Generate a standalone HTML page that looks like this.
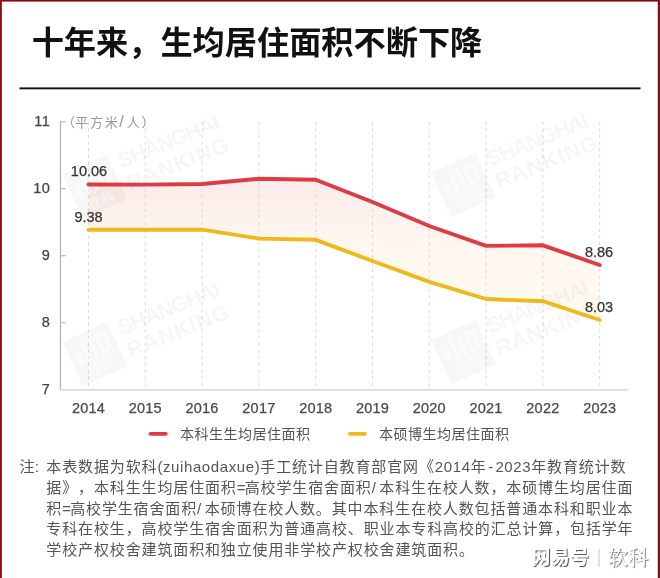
<!DOCTYPE html>
<html lang="zh-CN">
<head>
<meta charset="utf-8">
<title>十年来，生均居住面积不断下降</title>
<style>
  html, body { margin: 0; padding: 0; }
  body {
    width: 660px; height: 578px; overflow: hidden; background: #ffffff;
    font-family: "Liberation Sans", "Noto Sans CJK SC", sans-serif;
    position: relative; color: #333;
  }
  .abs { position: absolute; white-space: nowrap; }
  .title { left: 31.7px; top: 20.3px; font-size: 32.2px; line-height: 46px; font-weight: 700; color: #111; letter-spacing: 0; }
  svg { position: absolute; left: 0; top: 0; }
  .ylab { font-size: 14.5px; fill: #444; stroke: #444; stroke-width: 0.25px; text-anchor: end; letter-spacing: 0.5px; }
  .xlab { font-size: 14.5px; fill: #4a4a4a; stroke: #4a4a4a; stroke-width: 0.25px; text-anchor: middle; letter-spacing: 0.2px; }
  .vlab { font-size: 14.5px; fill: #333; stroke: #333; stroke-width: 0.25px; text-anchor: middle; }
  .unit { font-size: 13px; fill: #999; }
  .leg { font-size: 14px; color: #555; line-height: 20px; letter-spacing: 0.5px; }
  .note { left: 46.3px; font-size: 15px; line-height: 21px; color: #555; white-space: nowrap;
    text-spacing-trim: space-all; letter-spacing: 0.87px; }
  .nw { line-height: 24px; color: #fff; text-shadow: 0.8px 0.9px 0.9px rgba(40,40,40,0.75); }
  .lt { letter-spacing: 0.6px; }
  .hy { letter-spacing: 0; padding: 0 2.2px 0 1.7px; }
  .eq { letter-spacing: -0.8px; }
  .sl { letter-spacing: 3.5px; }
  .wm { fill: #000; fill-opacity: 0.036; font-weight: 700; font-size: 22px; }
</style>
</head>
<body>

<div class="abs title">十年来，生均居住面积不断下降</div>

<svg width="660" height="578" viewBox="0 0 660 578">
  <defs>
    <linearGradient id="areaFill" x1="0" y1="178" x2="0" y2="322" gradientUnits="userSpaceOnUse">
      <stop offset="0" stop-color="#fceaea"/>
      <stop offset="0.2" stop-color="#fdf0ed"/>
      <stop offset="0.4" stop-color="#fef5ef"/>
      <stop offset="0.6" stop-color="#fef8ef"/>
      <stop offset="1" stop-color="#fffbf1"/>
    </linearGradient>
    <g id="wmark">
      <g transform="rotate(-22)" >
        <g transform="rotate(-2.5)">
        <rect x="-24.5" y="-24.5" width="49" height="49" fill="#000" fill-opacity="0.03"/>
        <rect x="-17" y="-10" width="4.5" height="14" fill="#fff" fill-opacity="0.45"/>
        <rect x="-9.5" y="-18" width="4.5" height="22" fill="#fff" fill-opacity="0.45"/>
        <rect x="-1" y="-18" width="4.5" height="22" fill="#fff" fill-opacity="0.45"/>
        <path d="M6.5 -18h6a6 6 0 0 1 6 6v10a6 6 0 0 1 -6 6h-6z M10.5 -13.5v13h2.5a2 2 0 0 0 2 -2v-9a2 2 0 0 0 -2 -2z" fill="#fff" fill-opacity="0.45" fill-rule="evenodd"/>
        <text x="0.5" y="19.5" font-size="13.5" font-weight="700" fill="#fff" fill-opacity="0.45" text-anchor="middle" letter-spacing="1">软科</text>
        </g>
        <text class="wm" x="31.5" y="-7" textLength="108" lengthAdjust="spacing">SHANGHAI</text>
        <text class="wm" x="31.5" y="17" textLength="108" lengthAdjust="spacing">RANKING</text>
      </g>
    </g>
  </defs>

  <!-- area between lines -->
  <path fill="url(#areaFill)" d="M88.5 184.5L145.3 184.6L202.1 184L258.9 178.8L315.7 179.7L372.5 202L429.3 226L486.1 245.9L542.9 245.3L599.7 265L599.7 320L542.9 301.2L486.1 299L429.3 281.8L372.5 261L315.7 239.8L258.9 238.6L202.1 229.6L145.3 229.7L88.5 229.7Z"/>

  <!-- vertical dashed grid -->
  <g stroke="#dadada" stroke-width="1" stroke-dasharray="3.3 3.4" fill="none">
    <path d="M88.5 121.5V390M145.3 121.5V390M202.1 121.5V390M258.9 121.5V390M315.7 121.5V390M372.5 121.5V390M429.3 121.5V390M486.1 121.5V390M542.9 121.5V390M599.7 121.5V390"/>
  </g>

  <!-- watermarks -->
  <use href="#wmark" x="94.8" y="187"/>
  <use href="#wmark" x="463.2" y="185"/>
  <use href="#wmark" x="95" y="354"/>
  <use href="#wmark" x="463.4" y="352"/>

  <!-- axes -->
  <path d="M60.5 121.5V390" stroke="#b0b0b0" stroke-width="1.2" fill="none"/>
  <path d="M60 389.9H628.2" stroke="#d2d2d2" stroke-width="1.3" fill="none"/>
  <path d="M60.5 121.7H65.8M60.5 188.8H65.8M60.5 255.7H65.8M60.5 322.8H65.8" stroke="#b0b0b0" stroke-width="1.1" fill="none"/>

  <!-- series -->
  <path d="M88.5 229.7L145.3 229.7L202.1 229.6L258.9 238.6L315.7 239.8L372.5 261L429.3 281.8L486.1 299L542.9 301.2L599.7 320" fill="none" stroke="#edb91c" stroke-width="3.9" stroke-linecap="round" stroke-linejoin="round"/>
  <path d="M88.5 184.5L145.3 184.6L202.1 184L258.9 178.8L315.7 179.7L372.5 202L429.3 226L486.1 245.9L542.9 245.3L599.7 265" fill="none" stroke="#dd3b46" stroke-width="3.9" stroke-linecap="round" stroke-linejoin="round"/>

  <!-- y labels -->
  <text class="ylab" x="50.4" y="126.0">11</text>
  <text class="ylab" x="50.4" y="193.0">10</text>
  <text class="ylab" x="50.4" y="260.0">9</text>
  <text class="ylab" x="50.4" y="327.0">8</text>
  <text class="ylab" x="50.4" y="394.0">7</text>

  <text class="unit" x="62 75.2 90 104.8 119.2 126.7 141.5" y="126.5">（平方米<tspan font-size="16.5" dy="0.6">/</tspan><tspan dy="-0.6">人</tspan>）</text>

  <!-- x labels -->
  <text class="xlab" x="88.5" y="412.6">2014</text>
  <text class="xlab" x="145.3" y="412.6">2015</text>
  <text class="xlab" x="202.1" y="412.6">2016</text>
  <text class="xlab" x="258.9" y="412.6">2017</text>
  <text class="xlab" x="315.7" y="412.6">2018</text>
  <text class="xlab" x="372.5" y="412.6">2019</text>
  <text class="xlab" x="429.3" y="412.6">2020</text>
  <text class="xlab" x="486.1" y="412.6">2021</text>
  <text class="xlab" x="542.9" y="412.6">2022</text>
  <text class="xlab" x="599.7" y="412.6">2023</text>

  <!-- value labels -->
  <text class="vlab" x="89" y="176.2">10.06</text>
  <text class="vlab" x="88.5" y="221.8">9.38</text>
  <text class="vlab" x="599" y="256.8">8.86</text>
  <text class="vlab" x="599" y="312">8.03</text>

  <!-- title rule -->
  <rect x="19.5" y="87.4" width="621" height="1.9" fill="#111"/>

  <!-- outer frame -->
  <g fill="#8b0614">
    <rect x="0" y="0" width="660" height="1.6"/>
    <rect x="0" y="0" width="1.8" height="578"/>
    <rect x="657.8" y="0" width="2.2" height="578"/>
  </g>

  <!-- legend marks -->
  <path d="M150.5 433.8H165.8" stroke="#dd3b46" stroke-width="3.8" stroke-linecap="round"/>
  <path d="M349.8 433.8H365" stroke="#edb91c" stroke-width="3.8" stroke-linecap="round"/>
</svg>

<div class="abs leg" style="left:180px; top:424px;">本科生生均居住面积</div>
<div class="abs leg" style="left:379px; top:424px;">本硕博生均居住面积</div>

<div class="abs" style="left:19.5px; top:456px; font-size:15.2px; line-height:21px; color:#555;">注:</div>
<div class="abs note" style="top:456px;">本表数据为软科<span class="lt">(zuihaodaxue)</span>手工统计自教育部官网《<span class="lt">2014</span>年<span class="hy">-</span><span class="lt">2023</span>年教育统计数</div>
<div class="abs note" style="top:477.2px;">据》，本科生生均居住面积<span class="eq">=</span>高校学生宿舍面积<span class="sl">/</span>本科生在校人数，本硕博生均居住面</div>
<div class="abs note" style="top:498.4px;">积<span class="eq">=</span>高校学生宿舍面积<span class="sl">/</span>本硕博在校人数。其中本科生在校人数包括普通本科和职业本</div>
<div class="abs note" style="top:518.4px;">专科在校生，高校学生宿舍面积为普通高校、职业本专科高校的汇总计算，包括学年</div>
<div class="abs note" style="top:539px;">学校产权校舍建筑面积和独立使用非学校产权校舍建筑面积。</div>

<div class="abs nw" style="left:531.6px; top:546px; font-size:18.8px; letter-spacing:0.5px; font-weight:900; text-shadow: 0.9px 1px 0.8px rgba(30,30,30,0.8);">网易号</div>
<div class="abs nw" style="left:598.4px; top:548.6px; width:1.6px; height:18px; background:#e3e3e3;"></div>
<div class="abs nw" style="left:608px; top:546px; font-size:20.2px; font-family:'Liberation Serif','Noto Serif CJK SC',serif; font-weight:500;">软科</div>
</body>
</html>
